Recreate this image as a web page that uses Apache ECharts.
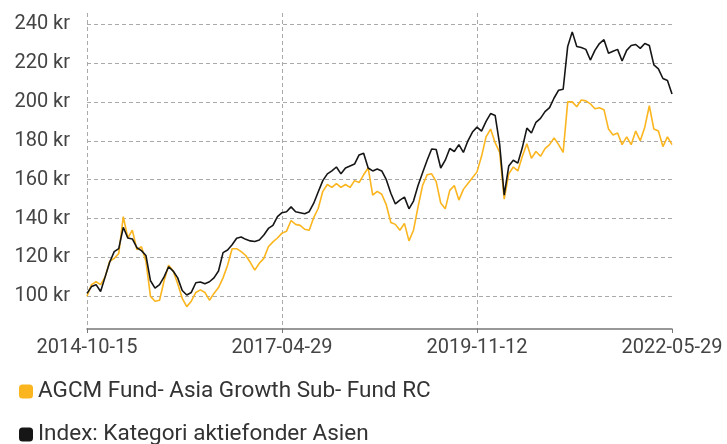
<!DOCTYPE html>
<html>
<head>
<meta charset="utf-8">
<script src="https://cdn.jsdelivr.net/npm/echarts@6/dist/echarts.min.js"></script>
<style>
  html, body { margin: 0; padding: 0; background: #fff; }
  #chart { width: 727px; height: 444px; }
</style>
</head>
<body>
<div id="chart"></div>
<script>
  // tick labels on the time axis (evenly spaced samples in between)
  const tickDates = ['2014-10-15', '2017-04-29', '2019-11-12', '2022-05-29']

  const fundName = 'AGCM Fund- Asia Growth Sub- Fund RC'
  const indexName = 'Index: Kategori aktiefonder Asien'

  const fundValues = [
    100, 106, 107.5, 106, 110, 118, 119.5, 122, 141, 130,
    134, 124, 125.5, 118, 100, 97.5, 98, 108, 116, 113,
    106.5, 99, 94.7, 97.5, 102, 103.3, 102, 98, 101.5, 104.5,
    109.5, 116, 124.5, 124.5, 123, 121, 117.5, 113.5, 117, 119.5,
    125.5, 128, 130, 132.5, 133.5, 139, 137, 136.5, 134.5, 134,
    140.5, 145.3, 154, 157.5, 156, 158, 156, 157.5, 156, 159.5,
    158.5, 162.5, 166, 152, 154, 152.5, 147, 138, 137, 134,
    137.5, 128.5, 134, 146, 157, 162.5, 163, 159, 148, 145,
    154.5, 157, 149.5, 155, 158, 161, 164, 172, 182, 186,
    179, 174, 150, 163, 166.5, 164.5, 172, 178.5, 171, 174.5,
    172, 176, 178, 181.5, 178, 174, 200, 200, 197.5, 201,
    200.5, 199, 196.5, 197, 196, 186, 183, 184, 178, 182,
    178, 185, 180, 187, 198, 186, 185, 177, 182, 178
  ]

  const indexValues = [
    101.5, 105, 106, 102.5, 110, 117.5, 123, 124.5, 135.5, 130,
    129.5, 125, 123.5, 121, 108, 104.2, 106, 110, 115.2, 113,
    109.5, 103, 100.7, 102, 107, 107.4, 106.5, 107.5, 109.5, 113,
    122.5, 123.8, 126.5, 129.9, 130.5, 129.3, 128.5, 128.2, 129, 131.5,
    134.9, 136.5, 141, 143, 143.5, 146, 143.5, 143, 142.5, 143.5,
    147.9, 153.8, 159.5, 163, 164.5, 166.5, 163, 166, 167, 168,
    172.7, 173.6, 166, 164.5, 165.5, 164.5, 160, 153, 147.5, 149.5,
    151, 145, 149, 157, 163.5, 170, 175.8, 175.5, 166, 170,
    176, 174.5, 178, 174, 180, 184.5, 187, 185, 190, 194,
    193, 178, 152, 167, 170, 168.5, 176.5, 186.5, 184, 189.5,
    191.5, 195, 197, 202, 206, 206.5, 228.5, 236, 228.5, 228,
    227, 221.5, 226.5, 230, 232, 225, 226, 227, 221, 226.5,
    229, 229.5, 227.5, 230, 229, 219, 217, 212, 211, 204
  ]

  const lastIdx = fundValues.length - 1
  const step = lastIdx / (tickDates.length - 1)
  const categories = fundValues.map((v, i) => i)
  const isTick = i => i % step === 0

  const font = 'Roboto, "Liberation Sans", sans-serif'

  const chart = echarts.init(document.getElementById('chart'), null, { renderer: 'canvas' })
  chart.setOption({
    animation: false,
    color: ['#FBB51E', '#161616'],
    textStyle: { fontFamily: font },
    grid: { left: 87, right: 55, top: 13, bottom: 115 },
    legend: {
      orient: 'vertical',
      left: 19,
      top: 380,
      height: 120,
      padding: 0,
      itemWidth: 14,
      itemHeight: 14,
      itemGap: 20,
      icon: 'roundRect',
      textStyle: { fontSize: 22.5, color: '#333', fontFamily: font },
      data: [fundName, indexName]
    },
    xAxis: {
      type: 'category',
      boundaryGap: false,
      data: categories,
      axisLine: { lineStyle: { color: '#777', width: 1.5 } },
      axisTick: { show: true, length: 4, interval: isTick, lineStyle: { color: '#777' } },
      axisLabel: {
        interval: isTick,
        margin: 9,
        fontSize: 20,
        color: '#444',
        fontFamily: font,
        formatter: (v, i) => isTick(i) ? tickDates[i / step] : ''
      },
      splitLine: {
        show: true,
        interval: i => isTick(i) && i !== lastIdx,
        lineStyle: { color: '#aaa', type: [4, 3] }
      }
    },
    yAxis: {
      type: 'value',
      min: 83.2,
      max: 245.7,
      splitNumber: 8,
      axisLine: { show: false },
      axisTick: { show: false },
      axisLabel: {
        margin: 17,
        fontSize: 20,
        color: '#444',
        fontFamily: font,
        showMinLabel: false,
        showMaxLabel: false,
        formatter: v => v + ' kr'
      },
      splitLine: {
        show: true,
        showMinLine: false,
        showMaxLine: false,
        lineStyle: { color: '#aaa', type: [4, 3] }
      }
    },
    series: [
      {
        name: fundName,
        type: 'line',
        data: fundValues,
        symbol: 'none',
        lineStyle: { width: 1.6 }
      },
      {
        name: indexName,
        type: 'line',
        data: indexValues,
        symbol: 'none',
        lineStyle: { width: 1.6 }
      }
    ]
  })
</script>
</body>
</html>
